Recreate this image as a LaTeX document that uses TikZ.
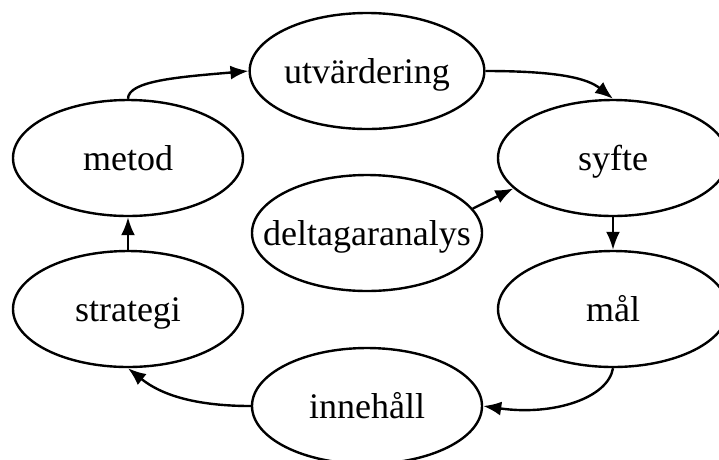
\documentclass[tikz,border=0pt]{standalone}
\usepackage{fontspec}
\setmainfont{Liberation Serif}
\usetikzlibrary{shapes.geometric,positioning,arrows.meta}

\begin{document}
\begin{tikzpicture}[x=1pt,y=1pt,on grid,
    phase/.style={draw,ellipse,line width=2.4pt,minimum width=230pt,minimum height=116pt,
      inner sep=0pt,text height=24pt,text depth=0pt,font=\fontsize{36}{42}\selectfont},
    >={Latex[length=18pt,width=14pt]},line width=2.4pt]
            \useasboundingbox (0,0) rectangle (719,-459);
            \node[phase] (U) at (367,-71) {utvärdering};
            \node[phase] (M) [below left=87pt and 239pt of U] {metod};
            \node[phase] (S) [below right=87pt and 246pt of U] {syfte};
            \node[phase,inner xsep=-40pt] (D) [below=162pt of U] {deltagaranalys};
            \node[phase] (T) [below=151pt of M] {strategi};
            \node[phase] (L) [below=151pt of S] {mål};
            \node[phase] (I) [below right=97pt and 239pt of T] {innehåll};
            \draw[->] (M.north) .. controls +(0,18) and +(-70,-6) .. (U.west);
            \draw[->] (U.east) .. controls +(75,0) and +(-25,20) .. (S.north);
            \draw[->] (S) -- (L);
            \draw[->] (L.south) .. controls +(-5,-30) and +(70,-10) .. (I.east);
            \draw[->] (I.west) .. controls +(-70,0) and +(25,-20) .. (T.south);
            \draw[->] (T) -- (M);
            \draw[->] (D.13) -- (S.197);
        \end{tikzpicture}
\end{document}
